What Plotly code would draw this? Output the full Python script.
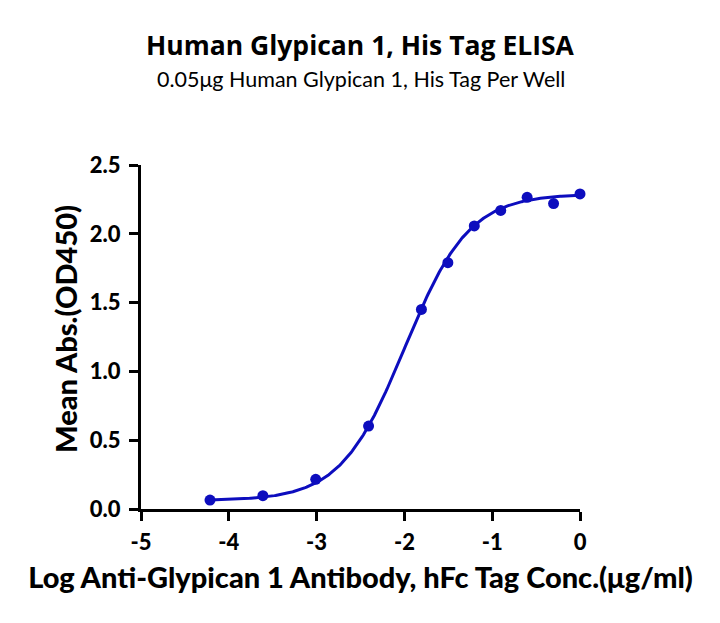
import numpy as np
import plotly.graph_objects as go

# Data (log10 concentration, mean OD450)
log_conc = [-4.214, -3.612, -3.010, -2.408, -1.806, -1.505, -1.204, -0.903, -0.602, -0.301, 0.0]
mean_od = [0.065, 0.097, 0.216, 0.603, 1.45, 1.79, 2.057, 2.17, 2.265, 2.22, 2.29]

# 4PL fit parameters (estimated)
fit_bottom = 0.06
fit_top = 2.29
fit_logec50 = -1.994
fit_hill = 1.19

x_ticks = [-5, -4, -3, -2, -1, 0]
y_ticks = [0.0, 0.5, 1.0, 1.5, 2.0, 2.5]

title_text = "Human Glypican 1, His Tag ELISA"
subtitle_text = "0.05μg Human Glypican 1, His Tag Per Well"
x_title = "Log Anti-Glypican 1 Antibody, hFc Tag Conc.(μg/ml)"
y_title = "Mean Abs.(OD450)"

color = "#0D0DBE"
font = "Lato"
title_font = "Open Sans"

xf = np.linspace(min(log_conc), max(log_conc), 300)
yf = fit_bottom + (fit_top - fit_bottom) / (1 + 10 ** ((fit_logec50 - xf) * fit_hill))

fig = go.Figure()
fig.add_trace(go.Scatter(x=xf, y=yf, mode="lines",
                         line=dict(color=color, width=3), cliponaxis=False,
                         hoverinfo="skip", showlegend=False))
fig.add_trace(go.Scatter(x=log_conc, y=mean_od, mode="markers",
                         marker=dict(color=color, size=11), cliponaxis=False,
                         showlegend=False))

L, R, T, B = 141, 140, 165, 114
pw = 720 - L - R
ph = 623 - T - B

def px_x(px):
    return (px - L) / pw

def px_y(py):
    return (623 - B - py) / ph

fig.update_layout(
    width=720, height=623,
    paper_bgcolor="white", plot_bgcolor="white",
    margin=dict(l=L, r=R, t=T, b=B),
    font=dict(family=font, color="black"),
    xaxis=dict(
        range=[-5, 0], tickvals=x_ticks, ticktext=[str(v) for v in x_ticks],
        showgrid=False, zeroline=False, showline=True, linecolor="black", linewidth=3,
        ticks="outside", ticklen=9, tickwidth=3, tickcolor="black",
        ticklabelstandoff=3,
        tickfont=dict(size=22, family=font, color="black", weight=900),
        title=dict(text=x_title,
                   font=dict(size=29, family=font, color="black", weight=900), standoff=14),
    ),
    yaxis=dict(
        range=[0, 2.5], tickvals=y_ticks, ticktext=[f"{v:.1f}" for v in y_ticks],
        showgrid=False, zeroline=False, showline=True, linecolor="black", linewidth=3,
        ticks="outside", ticklen=9, tickwidth=3, tickcolor="black",
        ticklabelstandoff=4,
        tickfont=dict(size=22, family=font, color="black", weight=900),
    ),
    annotations=[
        dict(text=title_text, xref="paper", yref="paper", x=0.5, y=px_y(45),
             xanchor="center", yanchor="middle", showarrow=False,
             font=dict(size=26.5, family=title_font, color="black", weight="bold")),
        dict(text=subtitle_text, xref="paper", yref="paper", x=0.5, y=px_y(79),
             xanchor="center", yanchor="middle", showarrow=False,
             font=dict(size=21.5, family=font, color="black")),
        dict(text=y_title, xref="paper", yref="paper", x=px_x(65), y=px_y(329),
             xanchor="center", yanchor="middle", showarrow=False, textangle=-90,
             font=dict(size=29, family=font, color="black", weight=900)),
    ],
)

fig.write_html("out.html")
